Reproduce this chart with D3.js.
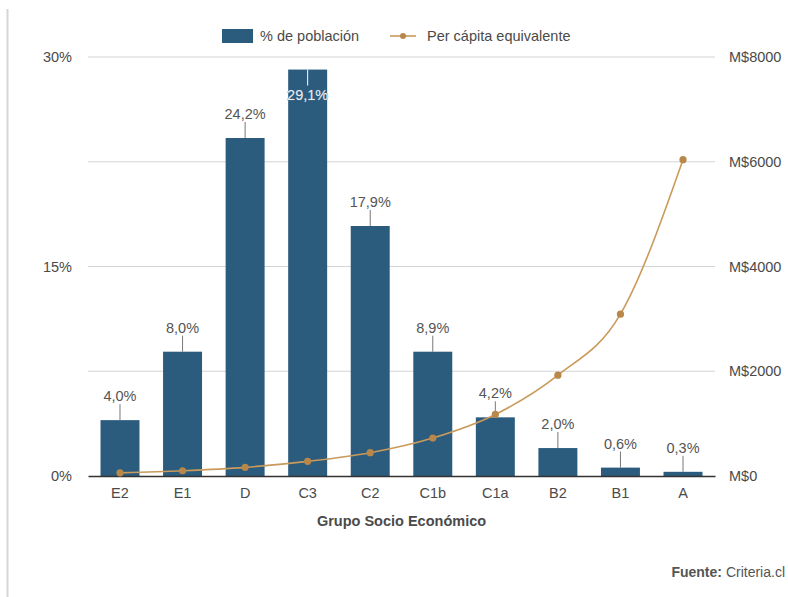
<!DOCTYPE html>
<html>
<head>
<meta charset="utf-8">
<script src="https://cdn.jsdelivr.net/npm/d3@7"></script>
<style>
  body { margin: 0; background: #fff; }
  text { font-family: "Liberation Sans", Arial, sans-serif; }
</style>
</head>
<body>
<div id="chart"></div>
<script>
// data
const categories = ["E2", "E1", "D", "C3", "C2", "C1b", "C1a", "B2", "B1", "A"];
const poblacion = [4.0, 8.9, 24.2, 29.1, 17.9, 8.9, 4.2, 2.0, 0.6, 0.3];
const poblacionLabels = ["4,0%", "8,0%", "24,2%", "29,1%", "17,9%", "8,9%", "4,2%", "2,0%", "0,6%", "0,3%"];
const perCapita = [60, 100, 165, 280, 445, 725, 1175, 1925, 3090, 6040];
const leftTicks = [0, 7.5, 15, 22.5, 30];
const leftTickLabels = { 0: "0%", 15: "15%", 30: "30%" };
const rightTicks = [0, 2000, 4000, 6000, 8000];

const width = 788, height = 597;
const margin = { top: 57, right: 73, bottom: 121, left: 88 };
const barColor = "#2b5b7d";
const lineColor = "#c99a5b";
const dotColor = "#b8874a";
const textColor = "#4a4a4a";

const svg = d3.select("#chart").append("svg")
  .attr("width", width)
  .attr("height", height);

// frame line at the left edge
svg.append("line")
  .attr("x1", 7.5).attr("x2", 7.5)
  .attr("y1", 9).attr("y2", height)
  .attr("stroke", "#d6d6d6").attr("stroke-width", 2);

const x = d3.scaleBand()
  .domain(categories)
  .range([margin.left, width - margin.right])
  .paddingInner(0.377)
  .paddingOuter(0.2);

const yL = d3.scaleLinear().domain([0, 30]).range([height - margin.bottom, margin.top]);
const yR = d3.scaleLinear().domain([0, 8000]).range([height - margin.bottom, margin.top]);

// gridlines
svg.append("g")
  .selectAll("line")
  .data(leftTicks.slice(1))
  .join("line")
  .attr("x1", margin.left).attr("x2", width - margin.right)
  .attr("y1", d => yL(d)).attr("y2", d => yL(d))
  .attr("stroke", "#d4d4d4").attr("stroke-width", 1.2);

// left axis
const leftAxis = svg.append("g")
  .attr("transform", `translate(${margin.left},0)`)
  .call(d3.axisLeft(yL).tickValues(leftTicks).tickSize(0).tickPadding(16)
    .tickFormat(d => leftTickLabels[d] || ""));
leftAxis.select(".domain").remove();
leftAxis.selectAll("text")
  .style("font-size", "14.5px").attr("fill", textColor);

// right axis
const rightAxis = svg.append("g")
  .attr("transform", `translate(${width - margin.right},0)`)
  .call(d3.axisRight(yR).tickValues(rightTicks).tickSize(0).tickPadding(14)
    .tickFormat(d => "M$" + d));
rightAxis.select(".domain").remove();
rightAxis.selectAll("text")
  .style("font-size", "14.5px").attr("fill", textColor);

// bars
svg.append("g")
  .selectAll("rect")
  .data(categories)
  .join("rect")
  .attr("x", d => x(d))
  .attr("width", x.bandwidth())
  .attr("y", (d, i) => yL(poblacion[i]))
  .attr("height", (d, i) => yL(0) - yL(poblacion[i]))
  .attr("fill", barColor);

// x axis
const xAxis = svg.append("g")
  .attr("transform", `translate(0,${height - margin.bottom})`)
  .call(d3.axisBottom(x).tickSize(0).tickPadding(12));
xAxis.select(".domain").attr("stroke", "#333").attr("stroke-width", 1.5);
xAxis.selectAll("text")
  .style("font-size", "14.5px").attr("fill", textColor);

svg.append("text")
  .attr("x", (margin.left + width - margin.right) / 2)
  .attr("y", height - margin.bottom + 50)
  .attr("text-anchor", "middle")
  .style("font-size", "14.5px").style("font-weight", "bold")
  .attr("fill", textColor)
  .text("Grupo Socio Económico");

// bar value labels with leader lines
const labels = svg.append("g");
categories.forEach((c, i) => {
  const cx = x(c) + x.bandwidth() / 2;
  const top = yL(poblacion[i]);
  const inside = top - 28 < margin.top;
  const lineY1 = inside ? top + 16 : top - 16;
  labels.append("line")
    .attr("x1", cx).attr("x2", cx)
    .attr("y1", lineY1).attr("y2", top)
    .attr("stroke", inside ? "#fff" : "#777").attr("stroke-width", 1);
  labels.append("text")
    .attr("x", cx)
    .attr("y", inside ? top + 30 : top - 19)
    .attr("text-anchor", "middle")
    .style("font-size", "14.5px")
    .attr("fill", inside ? "#e9eef2" : "#555")
    .attr("stroke", inside ? "#5d7890" : "#fff")
    .attr("stroke-width", inside ? 0.6 : 3)
    .attr("paint-order", "stroke")
    .text(poblacionLabels[i]);
});

// per capita line
const line = d3.line()
  .x((d, i) => x(categories[i]) + x.bandwidth() / 2)
  .y(d => yR(d))
  .curve(d3.curveMonotoneX);

svg.append("path")
  .datum(perCapita)
  .attr("d", line)
  .attr("fill", "none")
  .attr("stroke", lineColor)
  .attr("stroke-width", 1.6);

svg.append("g")
  .selectAll("circle")
  .data(perCapita)
  .join("circle")
  .attr("cx", (d, i) => x(categories[i]) + x.bandwidth() / 2)
  .attr("cy", d => yR(d))
  .attr("r", 3.6)
  .attr("fill", dotColor);

// legend
const legend = svg.append("g");
legend.append("rect")
  .attr("x", 222).attr("y", 29).attr("width", 31).attr("height", 14)
  .attr("fill", barColor);
legend.append("text")
  .attr("x", 260).attr("y", 41)
  .style("font-size", "14.5px").attr("fill", textColor)
  .text("% de población");
legend.append("line")
  .attr("x1", 390).attr("x2", 416).attr("y1", 36).attr("y2", 36)
  .attr("stroke", lineColor).attr("stroke-width", 1.6);
legend.append("circle")
  .attr("cx", 403).attr("cy", 36).attr("r", 3)
  .attr("fill", dotColor);
legend.append("text")
  .attr("x", 427).attr("y", 41)
  .style("font-size", "14.5px").attr("fill", textColor)
  .text("Per cápita equivalente");

// source
const src = svg.append("text")
  .attr("x", 785).attr("y", 577)
  .attr("text-anchor", "end")
  .style("font-size", "14px").attr("fill", "#555");
src.append("tspan").style("font-weight", "bold").text("Fuente: ");
src.append("tspan").text("Criteria.cl");
</script>
</body>
</html>
